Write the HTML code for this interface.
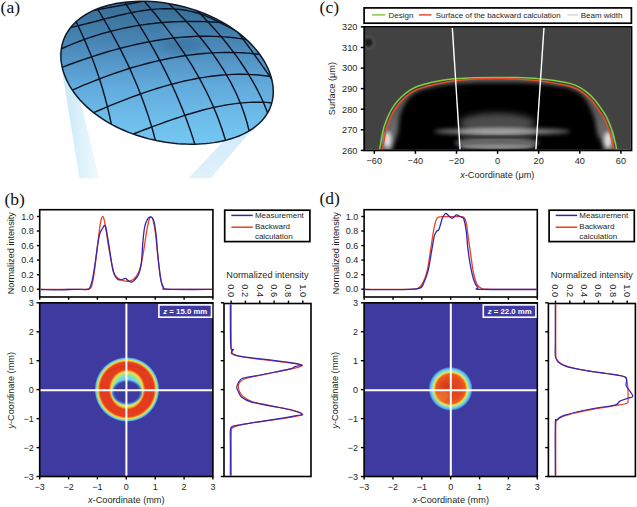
<!DOCTYPE html><html><head><meta charset="utf-8"><style>html,body{margin:0;padding:0;background:#fff;width:637px;height:507px;overflow:hidden}svg{display:block;font-family:"Liberation Sans",sans-serif}</style></head><body><svg width="637" height="507" viewBox="0 0 637 507" font-family="Liberation Sans, sans-serif"><rect width="637" height="507" fill="#fff"/><defs><linearGradient id="domeg" x1="0" y1="0" x2="0" y2="1"><stop offset="0" stop-color="#386a92"/><stop offset="0.12" stop-color="#3c76a0"/><stop offset="0.31" stop-color="#4a88b8"/><stop offset="0.59" stop-color="#62aadc"/><stop offset="0.835" stop-color="#6ebeeb"/><stop offset="1" stop-color="#76c6f2"/></linearGradient><linearGradient id="beamL" x1="0" y1="0" x2="1" y2="0"><stop offset="0" stop-color="#c4e5f5"/><stop offset="0.45" stop-color="#d8f0fa"/><stop offset="1" stop-color="#f2fafd"/></linearGradient><linearGradient id="beamR" x1="0" y1="0" x2="0" y2="1"><stop offset="0" stop-color="#cfe9f9"/><stop offset="1" stop-color="#e0f1fb"/></linearGradient><clipPath id="domeclip"><path d="M62.13,44.72 L62.84,42.14 L63.71,39.61 L64.74,37.12 L65.93,34.69 L67.28,32.31 L68.79,29.99 L70.46,27.74 L72.28,25.56 L74.26,23.45 L76.39,21.43 L78.66,19.48 L81.09,17.62 L83.65,15.85 L86.34,14.18 L89.17,12.59 L92.12,11.11 L95.19,9.73 L98.37,8.44 L101.66,7.27 L105.05,6.19 L108.53,5.22 L112.10,4.36 L115.75,3.60 L119.48,2.94 L123.28,2.40 L127.14,1.96 L131.06,1.63 L135.02,1.40 L139.04,1.28 L143.10,1.27 L147.19,1.36 L151.30,1.56 L155.45,1.86 L159.61,2.27 L163.78,2.79 L167.96,3.41 L172.14,4.14 L176.32,4.97 L180.48,5.91 L184.63,6.96 L188.74,8.10 L192.83,9.35 L196.88,10.70 L200.88,12.16 L204.82,13.71 L208.71,15.35 L212.53,17.09 L216.27,18.92 L219.93,20.83 L223.50,22.83 L226.98,24.91 L230.36,27.06 L233.64,29.29 L236.80,31.58 L239.85,33.93 L242.79,36.35 L245.60,38.81 L248.29,41.33 L250.85,43.89 L253.28,46.49 L255.58,49.13 L257.74,51.80 L259.78,54.50 L261.67,57.23 L263.43,59.98 L265.05,62.74 L266.53,65.52 L267.87,68.32 L269.07,71.12 L270.12,73.92 L271.02,76.73 L271.78,79.53 L272.38,82.33 L272.83,85.12 L273.12,87.89 L273.26,90.65 L273.23,93.39 L273.04,96.10 L272.69,98.78 L272.16,101.42 L271.47,104.02 L270.60,106.58 L269.57,109.09 L268.36,111.54 L266.99,113.92 L265.45,116.24 L263.73,118.49 L261.86,120.67 L259.82,122.76 L257.63,124.77 L255.29,126.69 L252.80,128.52 L250.17,130.25 L247.40,131.88 L244.51,133.42 L241.49,134.85 L238.36,136.18 L235.13,137.41 L231.79,138.54 L228.36,139.56 L224.85,140.48 L221.26,141.29 L217.59,142.00 L213.86,142.62 L210.06,143.13 L206.21,143.54 L202.31,143.85 L198.36,144.06 L194.37,144.17 L190.34,144.18 L186.28,144.10 L182.20,143.92 L178.09,143.64 L173.95,143.26 L169.81,142.78 L165.65,142.20 L161.49,141.51 L157.32,140.73 L153.17,139.84 L149.02,138.86 L144.89,137.76 L140.79,136.57 L136.72,135.27 L132.69,133.87 L128.71,132.37 L124.79,130.76 L120.92,129.06 L117.13,127.27 L113.42,125.38 L109.80,123.40 L106.27,121.34 L102.84,119.19 L99.52,116.97 L96.31,114.67 L93.23,112.31 L90.27,109.88 L87.44,107.40 L84.74,104.86 L82.18,102.27 L79.76,99.64 L77.48,96.98 L75.34,94.28 L73.35,91.55 L71.50,88.80 L69.80,86.03 L68.25,83.25 L66.84,80.45 L65.58,77.65 L64.47,74.85 L63.51,72.04 L62.69,69.24 L62.02,66.44 L61.50,63.66 L61.13,60.88 L60.92,58.13 L60.85,55.39 L60.94,52.68 L61.18,50.00 L61.58,47.34 Z"/></clipPath><filter id="blurA" x="-50%" y="-50%" width="200%" height="200%"><feGaussianBlur stdDeviation="4"/></filter></defs>
<polygon points="59.2,53.0 68.8,53.0 99.2,178.3 79.4,178.3" fill="url(#beamL)"/>
<polygon points="232.0,132.0 259.3,121.0 210.6,178.3 188.6,178.3" fill="url(#beamR)"/>
<path d="M62.13,44.72 L62.84,42.14 L63.71,39.61 L64.74,37.12 L65.93,34.69 L67.28,32.31 L68.79,29.99 L70.46,27.74 L72.28,25.56 L74.26,23.45 L76.39,21.43 L78.66,19.48 L81.09,17.62 L83.65,15.85 L86.34,14.18 L89.17,12.59 L92.12,11.11 L95.19,9.73 L98.37,8.44 L101.66,7.27 L105.05,6.19 L108.53,5.22 L112.10,4.36 L115.75,3.60 L119.48,2.94 L123.28,2.40 L127.14,1.96 L131.06,1.63 L135.02,1.40 L139.04,1.28 L143.10,1.27 L147.19,1.36 L151.30,1.56 L155.45,1.86 L159.61,2.27 L163.78,2.79 L167.96,3.41 L172.14,4.14 L176.32,4.97 L180.48,5.91 L184.63,6.96 L188.74,8.10 L192.83,9.35 L196.88,10.70 L200.88,12.16 L204.82,13.71 L208.71,15.35 L212.53,17.09 L216.27,18.92 L219.93,20.83 L223.50,22.83 L226.98,24.91 L230.36,27.06 L233.64,29.29 L236.80,31.58 L239.85,33.93 L242.79,36.35 L245.60,38.81 L248.29,41.33 L250.85,43.89 L253.28,46.49 L255.58,49.13 L257.74,51.80 L259.78,54.50 L261.67,57.23 L263.43,59.98 L265.05,62.74 L266.53,65.52 L267.87,68.32 L269.07,71.12 L270.12,73.92 L271.02,76.73 L271.78,79.53 L272.38,82.33 L272.83,85.12 L273.12,87.89 L273.26,90.65 L273.23,93.39 L273.04,96.10 L272.69,98.78 L272.16,101.42 L271.47,104.02 L270.60,106.58 L269.57,109.09 L268.36,111.54 L266.99,113.92 L265.45,116.24 L263.73,118.49 L261.86,120.67 L259.82,122.76 L257.63,124.77 L255.29,126.69 L252.80,128.52 L250.17,130.25 L247.40,131.88 L244.51,133.42 L241.49,134.85 L238.36,136.18 L235.13,137.41 L231.79,138.54 L228.36,139.56 L224.85,140.48 L221.26,141.29 L217.59,142.00 L213.86,142.62 L210.06,143.13 L206.21,143.54 L202.31,143.85 L198.36,144.06 L194.37,144.17 L190.34,144.18 L186.28,144.10 L182.20,143.92 L178.09,143.64 L173.95,143.26 L169.81,142.78 L165.65,142.20 L161.49,141.51 L157.32,140.73 L153.17,139.84 L149.02,138.86 L144.89,137.76 L140.79,136.57 L136.72,135.27 L132.69,133.87 L128.71,132.37 L124.79,130.76 L120.92,129.06 L117.13,127.27 L113.42,125.38 L109.80,123.40 L106.27,121.34 L102.84,119.19 L99.52,116.97 L96.31,114.67 L93.23,112.31 L90.27,109.88 L87.44,107.40 L84.74,104.86 L82.18,102.27 L79.76,99.64 L77.48,96.98 L75.34,94.28 L73.35,91.55 L71.50,88.80 L69.80,86.03 L68.25,83.25 L66.84,80.45 L65.58,77.65 L64.47,74.85 L63.51,72.04 L62.69,69.24 L62.02,66.44 L61.50,63.66 L61.13,60.88 L60.92,58.13 L60.85,55.39 L60.94,52.68 L61.18,50.00 L61.58,47.34 Z" fill="url(#domeg)"/>
<g clip-path="url(#domeclip)"><ellipse cx="181" cy="46" rx="22" ry="7" fill="#24527a" opacity="0.28" filter="url(#blurA)"/><ellipse cx="178" cy="31" rx="16" ry="6" fill="#7ab4dc" opacity="0.22" filter="url(#blurA)"/><path d="M72.9,14.2 L97.9,9.6 L98.7,9.4 L99.5,9.3 L100.4,9.1 L101.2,9.0 L102.0,8.8 L102.8,8.7 L103.7,8.5 L104.5,8.4 L105.3,8.2 L106.1,8.1 L107.0,7.9 L107.8,7.8 L108.6,7.6 L109.4,7.5 L110.2,7.3 L111.1,7.2 L111.9,7.0 L112.7,6.9 L113.5,6.7 L114.4,6.6 L115.2,6.4 L116.0,6.3 L116.8,6.1 L117.7,6.0 L118.5,5.8 L119.3,5.7 L120.1,5.5 L120.9,5.4 L121.8,5.2 L122.6,5.1 L123.4,4.9 L124.2,4.8 L125.1,4.6 L125.9,4.5 L126.7,4.3 L127.5,4.2 L128.4,4.0 L129.2,3.9 L130.0,3.7 L155.0,-0.9" fill="none" stroke="#0c1424" stroke-width="1.45"/><path d="M53.7,31.5 L78.7,25.6 L82.2,24.7 L85.7,23.9 L89.2,23.0 L92.7,22.1 L96.2,21.2 L99.7,20.3 L103.3,19.3 L106.8,18.4 L110.3,17.5 L113.8,16.7 L117.3,15.8 L120.8,15.0 L124.3,14.2 L127.8,13.4 L131.3,12.7 L134.8,12.0 L138.3,11.4 L141.8,10.8 L145.3,10.3 L148.9,9.8 L152.4,9.4 L155.9,9.1 L159.4,8.9 L162.9,8.8 L166.4,8.7 L169.9,8.8 L173.4,8.9 L176.9,9.2 L180.4,9.5 L183.9,10.0 L187.4,10.6 L190.9,11.4 L194.5,12.2 L198.0,13.2 L201.5,14.4 L205.0,15.6 L208.5,17.1 L212.0,18.7 L215.5,20.4 L240.5,32.9" fill="none" stroke="#0c1424" stroke-width="1.45"/><path d="M38.1,59.0 L63.1,48.0 L67.4,46.1 L71.6,44.4 L75.9,42.6 L80.2,41.0 L84.5,39.4 L88.7,37.9 L93.0,36.5 L97.3,35.1 L101.5,33.8 L105.8,32.6 L110.1,31.5 L114.4,30.4 L118.6,29.4 L122.9,28.4 L127.2,27.5 L131.4,26.7 L135.7,25.9 L140.0,25.2 L144.3,24.6 L148.5,24.0 L152.8,23.5 L157.1,23.0 L161.4,22.6 L165.6,22.3 L169.9,22.0 L174.2,21.8 L178.4,21.6 L182.7,21.4 L187.0,21.4 L191.3,21.4 L195.5,21.4 L199.8,21.5 L204.1,21.6 L208.3,21.8 L212.6,22.0 L216.9,22.3 L221.2,22.6 L225.4,23.0 L229.7,23.4 L254.7,25.8" fill="none" stroke="#0c1424" stroke-width="1.45"/><path d="M38.9,75.9 L63.9,66.6 L68.8,64.8 L73.6,63.0 L78.5,61.3 L83.3,59.6 L88.2,58.0 L93.1,56.4 L97.9,54.8 L102.8,53.3 L107.6,51.8 L112.5,50.4 L117.3,49.1 L122.2,47.8 L127.1,46.6 L131.9,45.4 L136.8,44.3 L141.6,43.2 L146.5,42.3 L151.4,41.4 L156.2,40.5 L161.1,39.7 L165.9,39.0 L170.8,38.4 L175.7,37.8 L180.5,37.4 L185.4,37.0 L190.2,36.7 L195.1,36.4 L200.0,36.3 L204.8,36.2 L209.7,36.3 L214.5,36.4 L219.4,36.6 L224.2,36.9 L229.1,37.3 L234.0,37.8 L238.8,38.4 L243.7,39.1 L248.5,40.0 L253.4,40.9 L278.4,45.6" fill="none" stroke="#0c1424" stroke-width="1.45"/><path d="M48.9,100.1 L73.9,89.3 L78.7,87.3 L83.5,85.2 L88.3,83.3 L93.1,81.3 L97.9,79.5 L102.7,77.6 L107.5,75.9 L112.3,74.1 L117.1,72.5 L122.0,70.9 L126.8,69.3 L131.6,67.8 L136.4,66.4 L141.2,65.1 L146.0,63.8 L150.8,62.5 L155.6,61.4 L160.4,60.3 L165.2,59.2 L170.0,58.3 L174.8,57.4 L179.6,56.5 L184.4,55.8 L189.2,55.1 L194.0,54.5 L198.8,54.0 L203.6,53.5 L208.4,53.1 L213.2,52.9 L218.1,52.6 L222.9,52.5 L227.7,52.5 L232.5,52.5 L237.3,52.6 L242.1,52.8 L246.9,53.1 L251.7,53.5 L256.5,54.0 L261.3,54.6 L286.3,57.5" fill="none" stroke="#0c1424" stroke-width="1.45"/><path d="M70.3,122.8 L95.3,111.9 L99.8,110.0 L104.2,108.1 L108.7,106.2 L113.1,104.4 L117.6,102.6 L122.1,100.8 L126.5,99.1 L131.0,97.4 L135.4,95.8 L139.9,94.2 L144.3,92.6 L148.8,91.1 L153.3,89.6 L157.7,88.2 L162.2,86.9 L166.6,85.6 L171.1,84.4 L175.6,83.2 L180.0,82.1 L184.5,81.0 L188.9,80.1 L193.4,79.2 L197.9,78.3 L202.3,77.6 L206.8,76.9 L211.2,76.3 L215.7,75.7 L220.2,75.3 L224.6,74.9 L229.1,74.6 L233.5,74.4 L238.0,74.3 L242.4,74.3 L246.9,74.4 L251.4,74.6 L255.8,74.8 L260.3,75.2 L264.7,75.7 L269.2,76.3 L294.2,79.5" fill="none" stroke="#0c1424" stroke-width="1.45"/><path d="M109.5,143.0 L134.5,133.5 L138.0,132.2 L141.4,130.9 L144.9,129.5 L148.4,128.2 L151.9,126.9 L155.3,125.6 L158.8,124.4 L162.3,123.1 L165.8,121.8 L169.2,120.6 L172.7,119.4 L176.2,118.2 L179.7,117.1 L183.1,115.9 L186.6,114.8 L190.1,113.8 L193.6,112.7 L197.0,111.7 L200.5,110.7 L204.0,109.8 L207.5,108.9 L210.9,108.1 L214.4,107.3 L217.9,106.6 L221.4,105.9 L224.8,105.2 L228.3,104.6 L231.8,104.1 L235.3,103.6 L238.7,103.2 L242.2,102.9 L245.7,102.6 L249.2,102.4 L252.6,102.3 L256.1,102.2 L259.6,102.2 L263.1,102.3 L266.5,102.4 L270.0,102.7 L295.0,104.4" fill="none" stroke="#0c1424" stroke-width="1.45"/><path d="M64.7,-2.1 L76.7,22.9 L78.0,25.5 L79.2,28.1 L80.4,30.6 L81.6,33.2 L82.7,35.8 L83.9,38.4 L85.0,40.9 L86.1,43.5 L87.2,46.1 L88.3,48.7 L89.3,51.2 L90.4,53.8 L91.4,56.4 L92.4,59.0 L93.4,61.6 L94.3,64.1 L95.3,66.7 L96.2,69.3 L97.1,71.9 L98.0,74.4 L98.8,77.0 L99.7,79.6 L100.5,82.2 L101.3,84.7 L102.1,87.3 L102.9,89.9 L103.6,92.5 L104.3,95.1 L105.1,97.6 L105.7,100.2 L106.4,102.8 L107.1,105.4 L107.7,107.9 L108.3,110.5 L108.9,113.1 L109.5,115.7 L110.1,118.2 L110.6,120.8 L111.1,123.4 L116.2,148.4" fill="none" stroke="#0c1424" stroke-width="1.45"/><path d="M82.5,-15.4 L97.9,9.6 L100.0,12.9 L102.0,16.3 L104.0,19.6 L106.0,23.0 L107.9,26.3 L109.8,29.7 L111.7,33.0 L113.5,36.3 L115.3,39.7 L117.1,43.0 L118.9,46.4 L120.6,49.7 L122.3,53.1 L123.9,56.4 L125.6,59.8 L127.2,63.1 L128.7,66.4 L130.3,69.8 L131.8,73.1 L133.2,76.5 L134.7,79.8 L136.1,83.2 L137.5,86.5 L138.8,89.8 L140.1,93.2 L141.4,96.5 L142.7,99.9 L143.9,103.2 L145.1,106.6 L146.2,109.9 L147.4,113.3 L148.5,116.6 L149.5,119.9 L150.6,123.3 L151.6,126.6 L152.6,130.0 L153.5,133.3 L154.4,136.7 L155.3,140.0 L161.9,165.0" fill="none" stroke="#0c1424" stroke-width="1.45"/><path d="M116.7,-10.2 L132.9,14.8 L135.0,18.1 L137.1,21.4 L139.2,24.7 L141.2,28.1 L143.2,31.4 L145.2,34.7 L147.2,38.0 L149.1,41.3 L151.0,44.6 L152.9,47.9 L154.8,51.2 L156.6,54.6 L158.4,57.9 L160.1,61.2 L161.9,64.5 L163.6,67.8 L165.3,71.1 L166.9,74.4 L168.5,77.7 L170.1,81.1 L171.7,84.4 L173.2,87.7 L174.7,91.0 L176.2,94.3 L177.6,97.6 L179.0,100.9 L180.4,104.2 L181.8,107.6 L183.1,110.9 L184.4,114.2 L185.7,117.5 L186.9,120.8 L188.1,124.1 L189.3,127.4 L190.5,130.7 L191.6,134.1 L192.7,137.4 L193.7,140.7 L194.8,144.0 L202.6,169.0" fill="none" stroke="#0c1424" stroke-width="1.45"/><path d="M124.2,-22.0 L145.8,3.0 L148.8,6.5 L151.7,10.0 L154.7,13.5 L157.5,17.0 L160.3,20.5 L163.1,24.0 L165.8,27.4 L168.4,30.9 L171.0,34.4 L173.6,37.9 L176.1,41.4 L178.5,44.9 L180.9,48.4 L183.3,51.9 L185.6,55.4 L187.8,58.9 L190.0,62.4 L192.2,65.9 L194.2,69.4 L196.3,72.8 L198.3,76.3 L200.2,79.8 L202.1,83.3 L203.9,86.8 L205.7,90.3 L207.4,93.8 L209.1,97.3 L210.7,100.8 L212.3,104.3 L213.8,107.8 L215.3,111.3 L216.7,114.8 L218.1,118.2 L219.4,121.7 L220.6,125.2 L221.9,128.7 L223.0,132.2 L224.1,135.7 L225.2,139.2 L232.7,164.2" fill="none" stroke="#0c1424" stroke-width="1.45"/><path d="M142.4,-22.0 L168.2,3.0 L171.4,6.2 L174.6,9.3 L177.8,12.5 L180.8,15.7 L183.8,18.8 L186.8,22.0 L189.7,25.2 L192.5,28.3 L195.2,31.5 L197.9,34.7 L200.5,37.8 L203.1,41.0 L205.6,44.2 L208.0,47.3 L210.4,50.5 L212.7,53.7 L214.9,56.8 L217.1,60.0 L219.2,63.2 L221.3,66.3 L223.3,69.5 L225.2,72.7 L227.0,75.8 L228.8,79.0 L230.6,82.2 L232.2,85.3 L233.8,88.5 L235.4,91.7 L236.8,94.8 L238.2,98.0 L239.6,101.2 L240.9,104.3 L242.1,107.5 L243.2,110.7 L244.3,113.8 L245.3,117.0 L246.3,120.2 L247.2,123.3 L248.0,126.5 L254.6,151.5" fill="none" stroke="#0c1424" stroke-width="1.45"/><path d="M174.3,-12.4 L199.0,12.6 L201.5,15.1 L203.9,17.6 L206.3,20.2 L208.7,22.7 L211.0,25.2 L213.3,27.7 L215.6,30.2 L217.8,32.7 L219.9,35.3 L222.1,37.8 L224.2,40.3 L226.2,42.8 L228.2,45.3 L230.2,47.9 L232.1,50.4 L234.0,52.9 L235.9,55.4 L237.7,57.9 L239.5,60.4 L241.2,63.0 L242.9,65.5 L244.6,68.0 L246.2,70.5 L247.8,73.0 L249.3,75.5 L250.8,78.1 L252.3,80.6 L253.7,83.1 L255.1,85.6 L256.5,88.1 L257.8,90.7 L259.0,93.2 L260.3,95.7 L261.5,98.2 L262.6,100.7 L263.7,103.2 L264.8,105.8 L265.8,108.3 L266.8,110.8 L276.7,135.8" fill="none" stroke="#0c1424" stroke-width="1.45"/><path d="M214.3,0.2 L232.8,25.2 L233.8,26.5 L234.8,27.8 L235.7,29.1 L236.7,30.4 L237.7,31.7 L238.6,33.0 L239.6,34.3 L240.5,35.6 L241.5,36.9 L242.4,38.2 L243.4,39.5 L244.4,40.8 L245.3,42.1 L246.3,43.4 L247.2,44.7 L248.2,46.0 L249.1,47.3 L250.0,48.6 L251.0,49.9 L251.9,51.3 L252.9,52.6 L253.8,53.9 L254.8,55.2 L255.7,56.5 L256.6,57.8 L257.6,59.1 L258.5,60.4 L259.4,61.7 L260.4,63.0 L261.3,64.3 L262.2,65.6 L263.1,66.9 L264.1,68.2 L265.0,69.5 L265.9,70.8 L266.8,72.1 L267.8,73.4 L268.7,74.7 L269.6,76.0 L287.2,101.0" fill="none" stroke="#0c1424" stroke-width="1.45"/></g>
<path d="M62.13,44.72 L62.84,42.14 L63.71,39.61 L64.74,37.12 L65.93,34.69 L67.28,32.31 L68.79,29.99 L70.46,27.74 L72.28,25.56 L74.26,23.45 L76.39,21.43 L78.66,19.48 L81.09,17.62 L83.65,15.85 L86.34,14.18 L89.17,12.59 L92.12,11.11 L95.19,9.73 L98.37,8.44 L101.66,7.27 L105.05,6.19 L108.53,5.22 L112.10,4.36 L115.75,3.60 L119.48,2.94 L123.28,2.40 L127.14,1.96 L131.06,1.63 L135.02,1.40 L139.04,1.28 L143.10,1.27 L147.19,1.36 L151.30,1.56 L155.45,1.86 L159.61,2.27 L163.78,2.79 L167.96,3.41 L172.14,4.14 L176.32,4.97 L180.48,5.91 L184.63,6.96 L188.74,8.10 L192.83,9.35 L196.88,10.70 L200.88,12.16 L204.82,13.71 L208.71,15.35 L212.53,17.09 L216.27,18.92 L219.93,20.83 L223.50,22.83 L226.98,24.91 L230.36,27.06 L233.64,29.29 L236.80,31.58 L239.85,33.93 L242.79,36.35 L245.60,38.81 L248.29,41.33 L250.85,43.89 L253.28,46.49 L255.58,49.13 L257.74,51.80 L259.78,54.50 L261.67,57.23 L263.43,59.98 L265.05,62.74 L266.53,65.52 L267.87,68.32 L269.07,71.12 L270.12,73.92 L271.02,76.73 L271.78,79.53 L272.38,82.33 L272.83,85.12 L273.12,87.89 L273.26,90.65 L273.23,93.39 L273.04,96.10 L272.69,98.78 L272.16,101.42 L271.47,104.02 L270.60,106.58 L269.57,109.09 L268.36,111.54 L266.99,113.92 L265.45,116.24 L263.73,118.49 L261.86,120.67 L259.82,122.76 L257.63,124.77 L255.29,126.69 L252.80,128.52 L250.17,130.25 L247.40,131.88 L244.51,133.42 L241.49,134.85 L238.36,136.18 L235.13,137.41 L231.79,138.54 L228.36,139.56 L224.85,140.48 L221.26,141.29 L217.59,142.00 L213.86,142.62 L210.06,143.13 L206.21,143.54 L202.31,143.85 L198.36,144.06 L194.37,144.17 L190.34,144.18 L186.28,144.10 L182.20,143.92 L178.09,143.64 L173.95,143.26 L169.81,142.78 L165.65,142.20 L161.49,141.51 L157.32,140.73 L153.17,139.84 L149.02,138.86 L144.89,137.76 L140.79,136.57 L136.72,135.27 L132.69,133.87 L128.71,132.37 L124.79,130.76 L120.92,129.06 L117.13,127.27 L113.42,125.38 L109.80,123.40 L106.27,121.34 L102.84,119.19 L99.52,116.97 L96.31,114.67 L93.23,112.31 L90.27,109.88 L87.44,107.40 L84.74,104.86 L82.18,102.27 L79.76,99.64 L77.48,96.98 L75.34,94.28 L73.35,91.55 L71.50,88.80 L69.80,86.03 L68.25,83.25 L66.84,80.45 L65.58,77.65 L64.47,74.85 L63.51,72.04 L62.69,69.24 L62.02,66.44 L61.50,63.66 L61.13,60.88 L60.92,58.13 L60.85,55.39 L60.94,52.68 L61.18,50.00 L61.58,47.34 Z" fill="none" stroke="#0d1a2a" stroke-width="1.5"/>
<text x="0.6" y="13.0" font-size="17.5" font-family="Liberation Serif, serif" fill="#111">(a)</text>
<defs><filter id="blur1" x="-20%" y="-20%" width="140%" height="140%"><feGaussianBlur stdDeviation="1.2"/></filter><filter id="blur3" x="-50%" y="-50%" width="200%" height="200%"><feGaussianBlur stdDeviation="3"/></filter><filter id="blur2" x="-50%" y="-50%" width="200%" height="200%"><feGaussianBlur stdDeviation="2"/></filter><clipPath id="cclip"><rect x="365" y="27.8" width="265.6" height="121.7"/></clipPath></defs>
<text x="319.6" y="13.0" font-size="17.5" font-family="Liberation Serif, serif" fill="#111">(c)</text>
<rect x="364.1" y="7.9" width="267.3" height="15.3" fill="#fff" stroke="#000" stroke-width="1.7"/>
<line x1="372.1" y1="14.9" x2="385.3" y2="14.9" stroke="#7dc243" stroke-width="1.4"/>
<text x="388.6" y="17.9" font-size="8" text-anchor="start" fill="#231f20">Design</text>
<line x1="418.9" y1="14.9" x2="431.4" y2="14.9" stroke="#e8401c" stroke-width="1.4"/>
<text x="435.8" y="17.9" font-size="7.92" text-anchor="start" fill="#231f20">Surface of the backward calculation</text>
<line x1="567.5" y1="14.9" x2="578.1" y2="14.9" stroke="#c8c8c8" stroke-width="1.1"/>
<text x="580.7" y="17.9" font-size="8" text-anchor="start" fill="#231f20">Beam width</text>
<g clip-path="url(#cclip)">
<rect x="365" y="27" width="267" height="124" fill="#424242"/>
<circle cx="368.5" cy="42.6" r="6" fill="none" stroke="#555" stroke-width="2" filter="url(#blur1)"/>
<circle cx="368.5" cy="42.6" r="3.8" fill="#1a1a1a" filter="url(#blur1)"/>
<path d="M381.95,151.53 C382.30,149.69 383.42,143.84 384.05,140.52 C384.68,137.21 385.15,134.17 385.73,131.63 C386.31,129.08 386.43,128.25 387.53,125.27 C388.62,122.29 390.73,116.92 392.31,113.75 C393.88,110.58 395.25,108.60 396.96,106.25 C398.67,103.91 400.56,101.70 402.58,99.68 C404.60,97.66 406.60,95.83 409.09,94.10 C411.58,92.38 414.76,90.59 417.54,89.36 C420.32,88.12 423.45,87.37 425.79,86.69 C428.14,86.00 429.01,85.84 431.61,85.23 C434.22,84.62 437.63,83.76 441.42,83.02 C445.21,82.28 448.93,81.46 454.36,80.80 C459.80,80.14 466.93,79.43 474.04,79.06 C481.15,78.69 489.85,78.63 497.00,78.60 C504.16,78.57 509.99,78.54 516.96,78.90 C523.93,79.26 531.72,79.89 538.83,80.76 C545.93,81.64 554.54,83.28 559.59,84.17 C564.63,85.06 565.96,85.15 569.10,86.08 C572.23,87.02 575.60,88.29 578.39,89.77 C581.17,91.25 583.46,92.99 585.81,94.95 C588.16,96.91 590.42,99.16 592.49,101.54 C594.56,103.92 596.36,106.57 598.21,109.20 C600.05,111.84 602.02,114.54 603.54,117.34 C605.06,120.13 606.28,123.47 607.31,125.97 C608.34,128.47 609.00,130.07 609.73,132.35 C610.46,134.64 611.08,137.24 611.68,139.67 C612.29,142.11 612.96,144.99 613.35,146.95 C613.75,148.91 613.92,150.68 614.03,151.42 L614.0,155 L382.0,155 Z" fill="#5c5c5c"/>
<path d="M391.97,153.44 C392.32,151.60 393.45,145.68 394.07,142.43 C394.69,139.17 395.17,136.18 395.67,133.91 C396.18,131.63 396.44,131.54 397.10,128.78 C397.76,126.03 398.85,120.56 399.65,117.40 C400.45,114.24 400.89,112.29 401.88,109.84 C402.87,107.39 404.13,104.94 405.59,102.69 C407.04,100.43 408.47,98.20 410.61,96.31 C412.75,94.42 415.80,92.62 418.44,91.37 C421.07,90.11 424.14,89.46 426.41,88.80 C428.69,88.13 429.54,87.95 432.10,87.38 C434.66,86.80 438.04,85.94 441.79,85.34 C445.54,84.74 449.21,84.22 454.61,83.78 C460.00,83.34 467.08,82.91 474.15,82.70 C481.22,82.48 489.90,82.52 497.01,82.50 C504.13,82.48 509.92,82.38 516.85,82.60 C523.77,82.81 531.49,83.16 538.56,83.78 C545.63,84.41 554.28,85.61 559.26,86.35 C564.25,87.08 565.45,87.29 568.47,88.19 C571.48,89.08 574.78,90.21 577.35,91.72 C579.93,93.22 582.00,95.06 583.92,97.22 C585.84,99.38 587.44,102.03 588.88,104.68 C590.32,107.34 591.45,110.32 592.56,113.16 C593.66,115.99 594.63,118.91 595.51,121.70 C596.40,124.48 597.13,127.57 597.88,129.86 C598.63,132.15 599.37,133.41 600.02,135.45 C600.67,137.50 601.23,139.88 601.78,142.13 C602.34,144.38 602.99,147.15 603.35,148.95 C603.71,150.75 603.85,152.29 603.95,152.96 L603.9,160 L392.0,160 Z" fill="#000" filter="url(#blur2)"/>
<ellipse cx="392" cy="128" rx="5" ry="12" fill="#6a6a6a" filter="url(#blur3)"/>
<ellipse cx="603" cy="128" rx="5" ry="12" fill="#6a6a6a" filter="url(#blur3)"/>
<ellipse cx="387.5" cy="140" rx="4" ry="8.5" fill="#e6e6e6" filter="url(#blur2)"/>
<ellipse cx="608" cy="140" rx="4" ry="8.5" fill="#e6e6e6" filter="url(#blur2)"/>
<ellipse cx="497" cy="123" rx="38" ry="10" fill="#4c4c4c" filter="url(#blur3)"/>
<ellipse cx="497" cy="143" rx="42" ry="7.5" fill="#656565" filter="url(#blur2)"/>
<ellipse cx="502" cy="131.5" rx="68" ry="3.2" fill="#858585" filter="url(#blur2)"/>
<ellipse cx="497" cy="131.5" rx="38" ry="2.6" fill="#a8a8a8" filter="url(#blur2)"/>
<ellipse cx="497" cy="146.5" rx="38" ry="2.2" fill="#8a8a8a" filter="url(#blur1)"/>
<ellipse cx="497" cy="137" rx="36" ry="1.3" fill="#333" filter="url(#blur1)"/>
<path d="M379.20,151.00 C379.55,149.17 380.67,143.33 381.30,140.00 C381.93,136.67 382.40,133.62 383.00,131.00 C383.60,128.38 383.77,127.38 384.90,124.30 C386.03,121.22 388.17,115.78 389.80,112.50 C391.43,109.22 392.90,107.07 394.70,104.60 C396.50,102.13 398.47,99.83 400.60,97.70 C402.73,95.57 404.87,93.62 407.50,91.80 C410.13,89.98 413.48,88.10 416.40,86.80 C419.32,85.50 422.57,84.72 425.00,84.00 C427.43,83.28 428.33,83.10 431.00,82.50 C433.67,81.90 437.13,81.02 441.00,80.40 C444.87,79.78 448.70,79.25 454.20,78.80 C459.70,78.35 466.87,77.92 474.00,77.70 C481.13,77.48 489.83,77.52 497.00,77.50 C504.17,77.48 510.00,77.38 517.00,77.60 C524.00,77.82 531.83,78.17 539.00,78.80 C546.17,79.43 554.85,80.63 560.00,81.40 C565.15,82.17 566.62,82.42 569.90,83.40 C573.18,84.38 576.75,85.73 579.70,87.30 C582.65,88.87 585.12,90.73 587.60,92.80 C590.08,94.87 592.45,97.23 594.60,99.70 C596.75,102.17 598.60,104.88 600.50,107.60 C602.40,110.32 604.43,113.12 606.00,116.00 C607.57,118.88 608.83,122.32 609.90,124.90 C610.97,127.48 611.65,129.15 612.40,131.50 C613.15,133.85 613.78,136.52 614.40,139.00 C615.02,141.48 615.70,144.40 616.10,146.40 C616.50,148.40 616.68,150.23 616.80,151.00" fill="none" stroke="#7fcf3e" stroke-width="1.5"/>
<path d="M381.95,151.53 C382.30,149.69 383.42,143.84 384.05,140.52 C384.68,137.21 385.15,134.17 385.73,131.63 C386.31,129.08 386.43,128.25 387.53,125.27 C388.62,122.29 390.73,116.92 392.31,113.75 C393.88,110.58 395.25,108.60 396.96,106.25 C398.67,103.91 400.56,101.70 402.58,99.68 C404.60,97.66 406.60,95.83 409.09,94.10 C411.58,92.38 414.76,90.59 417.54,89.36 C420.32,88.12 423.45,87.37 425.79,86.69 C428.14,86.00 429.01,85.84 431.61,85.23 C434.22,84.62 437.63,83.76 441.42,83.02 C445.21,82.28 448.93,81.46 454.36,80.80 C459.80,80.14 466.93,79.43 474.04,79.06 C481.15,78.69 489.85,78.63 497.00,78.60 C504.16,78.57 509.99,78.54 516.96,78.90 C523.93,79.26 531.72,79.89 538.83,80.76 C545.93,81.64 554.54,83.28 559.59,84.17 C564.63,85.06 565.96,85.15 569.10,86.08 C572.23,87.02 575.60,88.29 578.39,89.77 C581.17,91.25 583.46,92.99 585.81,94.95 C588.16,96.91 590.42,99.16 592.49,101.54 C594.56,103.92 596.36,106.57 598.21,109.20 C600.05,111.84 602.02,114.54 603.54,117.34 C605.06,120.13 606.28,123.47 607.31,125.97 C608.34,128.47 609.00,130.07 609.73,132.35 C610.46,134.64 611.08,137.24 611.68,139.67 C612.29,142.11 612.96,144.99 613.35,146.95 C613.75,148.91 613.92,150.68 614.03,151.42" fill="none" stroke="#ec4a24" stroke-width="1.5"/>
<line x1="452.2" y1="26" x2="460.2" y2="152" stroke="#fff" stroke-width="1.4"/>
<line x1="544.1" y1="26" x2="535.7" y2="152" stroke="#fff" stroke-width="1.4"/>
</g>
<rect x="364.2" y="26.9" width="267.3" height="123.5" fill="none" stroke="#000" stroke-width="1.8"/>
<line x1="360.8" y1="26.9" x2="364.2" y2="26.9" stroke="#000" stroke-width="1.5"/>
<text x="357.4" y="30.2" font-size="9.2" text-anchor="end" fill="#231f20">320</text>
<line x1="360.8" y1="47.5" x2="364.2" y2="47.5" stroke="#000" stroke-width="1.5"/>
<text x="357.4" y="50.8" font-size="9.2" text-anchor="end" fill="#231f20">310</text>
<line x1="360.8" y1="68.1" x2="364.2" y2="68.1" stroke="#000" stroke-width="1.5"/>
<text x="357.4" y="71.4" font-size="9.2" text-anchor="end" fill="#231f20">300</text>
<line x1="360.8" y1="88.6" x2="364.2" y2="88.6" stroke="#000" stroke-width="1.5"/>
<text x="357.4" y="91.9" font-size="9.2" text-anchor="end" fill="#231f20">290</text>
<line x1="360.8" y1="109.2" x2="364.2" y2="109.2" stroke="#000" stroke-width="1.5"/>
<text x="357.4" y="112.5" font-size="9.2" text-anchor="end" fill="#231f20">280</text>
<line x1="360.8" y1="129.8" x2="364.2" y2="129.8" stroke="#000" stroke-width="1.5"/>
<text x="357.4" y="133.1" font-size="9.2" text-anchor="end" fill="#231f20">270</text>
<line x1="360.8" y1="150.4" x2="364.2" y2="150.4" stroke="#000" stroke-width="1.5"/>
<text x="357.4" y="153.7" font-size="9.2" text-anchor="end" fill="#231f20">260</text>
<line x1="374.3" y1="150.4" x2="374.3" y2="153.8" stroke="#000" stroke-width="1.5"/>
<text x="374.3" y="164.3" font-size="9.2" text-anchor="middle" fill="#231f20">−60</text>
<line x1="415.4" y1="150.4" x2="415.4" y2="153.8" stroke="#000" stroke-width="1.5"/>
<text x="415.4" y="164.3" font-size="9.2" text-anchor="middle" fill="#231f20">−40</text>
<line x1="456.5" y1="150.4" x2="456.5" y2="153.8" stroke="#000" stroke-width="1.5"/>
<text x="456.5" y="164.3" font-size="9.2" text-anchor="middle" fill="#231f20">−20</text>
<line x1="497.6" y1="150.4" x2="497.6" y2="153.8" stroke="#000" stroke-width="1.5"/>
<text x="497.6" y="164.3" font-size="9.2" text-anchor="middle" fill="#231f20">0</text>
<line x1="538.7" y1="150.4" x2="538.7" y2="153.8" stroke="#000" stroke-width="1.5"/>
<text x="538.7" y="164.3" font-size="9.2" text-anchor="middle" fill="#231f20">20</text>
<line x1="579.8" y1="150.4" x2="579.8" y2="153.8" stroke="#000" stroke-width="1.5"/>
<text x="579.8" y="164.3" font-size="9.2" text-anchor="middle" fill="#231f20">40</text>
<line x1="620.9" y1="150.4" x2="620.9" y2="153.8" stroke="#000" stroke-width="1.5"/>
<text x="620.9" y="164.3" font-size="9.2" text-anchor="middle" fill="#231f20">60</text>
<text x="497.3" y="178" font-size="9.2" text-anchor="middle" fill="#231f20"><tspan font-style="italic">x</tspan>-Coordinate (μm)</text>
<text transform="translate(335.2 88.6) rotate(-90)" font-size="9.2" text-anchor="middle" fill="#231f20">Surface (μm)</text>
<text x="4.4" y="204.7" font-size="17.5" font-family="Liberation Serif, serif" fill="#111">(b)</text>
<rect x="39.7" y="209.7" width="173.2" height="87.3" fill="#fff" stroke="#000" stroke-width="1.6"/>
<line x1="36.9" y1="289.2" x2="39.7" y2="289.2" stroke="#000" stroke-width="1.4"/>
<text x="33.8" y="292.4" font-size="9.0" text-anchor="end" fill="#231f20">0.0</text>
<line x1="36.9" y1="274.7" x2="39.7" y2="274.7" stroke="#000" stroke-width="1.4"/>
<text x="33.8" y="277.9" font-size="9.0" text-anchor="end" fill="#231f20">0.2</text>
<line x1="36.9" y1="260.1" x2="39.7" y2="260.1" stroke="#000" stroke-width="1.4"/>
<text x="33.8" y="263.3" font-size="9.0" text-anchor="end" fill="#231f20">0.4</text>
<line x1="36.9" y1="245.6" x2="39.7" y2="245.6" stroke="#000" stroke-width="1.4"/>
<text x="33.8" y="248.8" font-size="9.0" text-anchor="end" fill="#231f20">0.6</text>
<line x1="36.9" y1="231.0" x2="39.7" y2="231.0" stroke="#000" stroke-width="1.4"/>
<text x="33.8" y="234.2" font-size="9.0" text-anchor="end" fill="#231f20">0.8</text>
<line x1="36.9" y1="216.5" x2="39.7" y2="216.5" stroke="#000" stroke-width="1.4"/>
<text x="33.8" y="219.7" font-size="9.0" text-anchor="end" fill="#231f20">1.0</text>
<line x1="39.7" y1="297.0" x2="39.7" y2="299.8" stroke="#000" stroke-width="1.4"/>
<line x1="68.6" y1="297.0" x2="68.6" y2="299.8" stroke="#000" stroke-width="1.4"/>
<line x1="97.4" y1="297.0" x2="97.4" y2="299.8" stroke="#000" stroke-width="1.4"/>
<line x1="126.3" y1="297.0" x2="126.3" y2="299.8" stroke="#000" stroke-width="1.4"/>
<line x1="155.2" y1="297.0" x2="155.2" y2="299.8" stroke="#000" stroke-width="1.4"/>
<line x1="184.1" y1="297.0" x2="184.1" y2="299.8" stroke="#000" stroke-width="1.4"/>
<line x1="212.9" y1="297.0" x2="212.9" y2="299.8" stroke="#000" stroke-width="1.4"/>
<text transform="translate(14.3 253.2) rotate(-90)" font-size="9.15" text-anchor="middle" fill="#231f20">Normalized intensity</text>
<path d="M40.50,289.30 C47.08,289.30 71.78,289.42 80.00,289.30 C88.22,289.18 87.73,289.63 89.80,288.60 C91.87,287.57 91.67,285.78 92.40,283.10 C93.13,280.42 93.45,277.82 94.20,272.50 C94.95,267.18 96.07,258.02 96.90,251.20 C97.73,244.38 98.52,236.78 99.20,231.60 C99.88,226.42 100.47,222.62 101.00,220.10 C101.53,217.58 101.90,216.65 102.40,216.50 C102.90,216.35 103.35,216.68 104.00,219.20 C104.65,221.72 105.57,227.17 106.30,231.60 C107.03,236.03 107.60,241.07 108.40,245.80 C109.20,250.53 110.22,255.55 111.10,260.00 C111.98,264.45 112.67,269.53 113.70,272.50 C114.73,275.47 115.82,276.48 117.30,277.80 C118.78,279.12 120.83,279.82 122.60,280.40 C124.37,280.98 126.12,281.43 127.90,281.30 C129.68,281.17 131.52,281.07 133.30,279.60 C135.08,278.13 137.27,275.17 138.60,272.50 C139.93,269.83 140.42,267.45 141.30,263.60 C142.18,259.75 143.02,254.73 143.90,249.40 C144.78,244.07 145.72,236.63 146.60,231.60 C147.48,226.57 148.52,221.62 149.20,219.20 C149.88,216.78 150.10,217.10 150.70,217.10 C151.30,217.10 152.00,216.48 152.80,219.20 C153.60,221.92 154.62,226.88 155.50,233.40 C156.38,239.92 157.22,250.60 158.10,258.30 C158.98,266.00 159.90,274.72 160.80,279.60 C161.70,284.48 162.47,285.98 163.50,287.60 C164.53,289.22 158.92,289.02 167.00,289.30 C175.08,289.58 204.50,289.30 212.00,289.30" fill="none" stroke="#ec4020" stroke-width="1.3"/>
<path d="M40.50,289.50 C43.75,289.55 54.25,289.83 60.00,289.80 C65.75,289.77 70.67,289.35 75.00,289.30 C79.33,289.25 83.58,289.67 86.00,289.50 C88.42,289.33 88.43,289.95 89.50,288.30 C90.57,286.65 91.47,283.72 92.40,279.60 C93.33,275.48 94.20,269.53 95.10,263.60 C96.00,257.67 97.00,249.03 97.80,244.00 C98.60,238.97 99.17,235.90 99.90,233.40 C100.63,230.90 101.37,230.33 102.20,229.00 C103.03,227.67 104.17,224.97 104.90,225.40 C105.63,225.83 105.87,227.90 106.60,231.60 C107.33,235.30 108.40,241.97 109.30,247.60 C110.20,253.23 111.12,260.82 112.00,265.40 C112.88,269.98 113.57,272.73 114.60,275.10 C115.63,277.47 117.02,278.85 118.20,279.60 C119.38,280.35 120.52,279.80 121.70,279.60 C122.88,279.40 124.27,278.27 125.30,278.40 C126.33,278.53 126.87,279.77 127.90,280.40 C128.93,281.03 130.32,282.33 131.50,282.20 C132.68,282.07 133.82,280.93 135.00,279.60 C136.18,278.27 137.55,276.87 138.60,274.20 C139.65,271.53 140.57,269.22 141.30,263.60 C142.03,257.98 142.42,246.72 143.00,240.50 C143.58,234.28 144.05,229.85 144.80,226.30 C145.55,222.75 146.62,220.78 147.50,219.20 C148.38,217.62 149.22,216.92 150.10,216.80 C150.98,216.68 152.05,217.22 152.80,218.50 C153.55,219.78 154.02,221.42 154.60,224.50 C155.18,227.58 155.72,231.37 156.30,237.00 C156.88,242.63 157.35,251.20 158.10,258.30 C158.85,265.40 159.90,274.68 160.80,279.60 C161.70,284.52 162.47,286.22 163.50,287.80 C164.53,289.38 162.58,288.82 167.00,289.10 C171.42,289.38 182.50,289.47 190.00,289.50 C197.50,289.53 208.33,289.33 212.00,289.30" fill="none" stroke="#3326b0" stroke-width="1.3"/>
<rect x="224.7" y="210.2" width="85.2" height="31.4" fill="#fff" stroke="#000" stroke-width="1.7"/>
<line x1="231.3" y1="215.4" x2="252.8" y2="215.4" stroke="#3326b0" stroke-width="1.5"/>
<line x1="231.3" y1="227.2" x2="252.8" y2="227.2" stroke="#ec4020" stroke-width="1.5"/>
<text x="254.9" y="218.4" font-size="8" text-anchor="start" fill="#231f20">Measurement</text>
<text x="254.9" y="229.3" font-size="8" text-anchor="start" fill="#231f20">Backward</text>
<text x="254.9" y="238.9" font-size="8" text-anchor="start" fill="#231f20">calculation</text>
<rect x="39.7" y="302.8" width="173.2" height="173.7" fill="#3e3aa0"/>
<defs><radialGradient id="ringg" cx="0.5" cy="0.5" r="0.5"><stop offset="0" stop-color="#e23a1e"/><stop offset="0.83" stop-color="#e43c1e"/><stop offset="0.865" stop-color="#f08030"/><stop offset="0.9" stop-color="#f0e040"/><stop offset="0.935" stop-color="#80dcc8"/><stop offset="0.965" stop-color="#5ab0e6"/><stop offset="1" stop-color="#3e3aa0"/></radialGradient><radialGradient id="ringin" cx="0.5" cy="0.5" r="0.5"><stop offset="0" stop-color="#5cc4ea"/><stop offset="0.62" stop-color="#72d8e0"/><stop offset="0.78" stop-color="#a8e488"/><stop offset="0.86" stop-color="#f0e040"/><stop offset="0.93" stop-color="#f29030"/><stop offset="1" stop-color="#e43c1e"/></radialGradient><radialGradient id="ringhole" cx="0.5" cy="0.5" r="0.5"><stop offset="0" stop-color="#3e3aa0"/><stop offset="0.8" stop-color="#3e3aa0"/><stop offset="0.92" stop-color="#4c82d2"/><stop offset="1" stop-color="#6cc8e4"/></radialGradient><filter id="bl15" x="-50%" y="-50%" width="200%" height="200%"><feGaussianBlur stdDeviation="1.5"/></filter><filter id="bl07" x="-50%" y="-50%" width="200%" height="200%"><feGaussianBlur stdDeviation="0.7"/></filter></defs><circle cx="127" cy="389.5" r="32.5" fill="url(#ringg)"/><ellipse cx="127" cy="389.5" rx="18.2" ry="20.2" fill="url(#ringin)" filter="url(#bl07)"/><ellipse cx="127" cy="392.2" rx="15.4" ry="12.6" fill="url(#ringhole)" filter="url(#bl07)"/><path d="M107,372.5 Q127,360.5 145,370.5" fill="none" stroke="#b82814" stroke-width="1.2" opacity="0.35" filter="url(#bl07)"/><path d="M149,379.5 Q154,392.5 148,404.5" fill="none" stroke="#c02a16" stroke-width="1" opacity="0.3" filter="url(#bl07)"/>
<line x1="126.4" y1="302.8" x2="126.4" y2="476.5" stroke="#fff" stroke-width="2"/>
<line x1="39.7" y1="390.2" x2="212.9" y2="390.2" stroke="#fff" stroke-width="2"/>
<rect x="39.7" y="302.8" width="173.2" height="173.7" fill="none" stroke="#000" stroke-width="1.6"/>
<rect x="158.9" y="304.9" width="52.6" height="12.3" fill="none" stroke="#fff" stroke-width="1.6"/>
<text x="185.3" y="313.9" font-size="7.8" font-weight="bold" text-anchor="middle" fill="#fff"><tspan font-style="italic">z</tspan> = 15.0 mm</text>
<line x1="36.5" y1="302.8" x2="39.7" y2="302.8" stroke="#000" stroke-width="1.4"/>
<text x="33.7" y="306.0" font-size="9.0" text-anchor="end" fill="#231f20">3</text>
<line x1="39.7" y1="476.5" x2="39.7" y2="479.4" stroke="#000" stroke-width="1.4"/>
<text x="39.7" y="490.4" font-size="9.0" text-anchor="middle" fill="#231f20">−3</text>
<line x1="36.5" y1="331.8" x2="39.7" y2="331.8" stroke="#000" stroke-width="1.4"/>
<text x="33.7" y="334.9" font-size="9.0" text-anchor="end" fill="#231f20">2</text>
<line x1="68.6" y1="476.5" x2="68.6" y2="479.4" stroke="#000" stroke-width="1.4"/>
<text x="68.6" y="490.4" font-size="9.0" text-anchor="middle" fill="#231f20">−2</text>
<line x1="36.5" y1="360.7" x2="39.7" y2="360.7" stroke="#000" stroke-width="1.4"/>
<text x="33.7" y="363.9" font-size="9.0" text-anchor="end" fill="#231f20">1</text>
<line x1="97.4" y1="476.5" x2="97.4" y2="479.4" stroke="#000" stroke-width="1.4"/>
<text x="97.4" y="490.4" font-size="9.0" text-anchor="middle" fill="#231f20">−1</text>
<line x1="36.5" y1="389.6" x2="39.7" y2="389.6" stroke="#000" stroke-width="1.4"/>
<text x="33.7" y="392.8" font-size="9.0" text-anchor="end" fill="#231f20">0</text>
<line x1="126.3" y1="476.5" x2="126.3" y2="479.4" stroke="#000" stroke-width="1.4"/>
<text x="126.3" y="490.4" font-size="9.0" text-anchor="middle" fill="#231f20">0</text>
<line x1="36.5" y1="418.6" x2="39.7" y2="418.6" stroke="#000" stroke-width="1.4"/>
<text x="33.7" y="421.8" font-size="9.0" text-anchor="end" fill="#231f20">−1</text>
<line x1="155.2" y1="476.5" x2="155.2" y2="479.4" stroke="#000" stroke-width="1.4"/>
<text x="155.2" y="490.4" font-size="9.0" text-anchor="middle" fill="#231f20">1</text>
<line x1="36.5" y1="447.6" x2="39.7" y2="447.6" stroke="#000" stroke-width="1.4"/>
<text x="33.7" y="450.8" font-size="9.0" text-anchor="end" fill="#231f20">−2</text>
<line x1="184.1" y1="476.5" x2="184.1" y2="479.4" stroke="#000" stroke-width="1.4"/>
<text x="184.1" y="490.4" font-size="9.0" text-anchor="middle" fill="#231f20">2</text>
<line x1="36.5" y1="476.5" x2="39.7" y2="476.5" stroke="#000" stroke-width="1.4"/>
<text x="33.7" y="479.7" font-size="9.0" text-anchor="end" fill="#231f20">−3</text>
<line x1="212.9" y1="476.5" x2="212.9" y2="479.4" stroke="#000" stroke-width="1.4"/>
<text x="212.9" y="490.4" font-size="9.0" text-anchor="middle" fill="#231f20">3</text>
<text x="126.3" y="502.6" font-size="9.2" text-anchor="middle" fill="#231f20"><tspan font-style="italic">x</tspan>-Coordinate (mm)</text>
<text transform="translate(13.9 390.3) rotate(-90)" font-size="9.2" text-anchor="middle" fill="#231f20"><tspan font-style="italic">y</tspan>-Coordinate (mm)</text>
<rect x="224.0" y="303.5" width="87.0" height="173" fill="#fff" stroke="#000" stroke-width="1.6"/>
<text x="267.4" y="277.8" font-size="9.15" text-anchor="middle" fill="#231f20">Normalized intensity</text>
<line x1="231.1" y1="300.6" x2="231.1" y2="303.5" stroke="#000" stroke-width="1.4"/>
<text transform="translate(227.8 297) rotate(90)" font-size="9.2" text-anchor="end" fill="#231f20">0.0</text>
<line x1="245.4" y1="300.6" x2="245.4" y2="303.5" stroke="#000" stroke-width="1.4"/>
<text transform="translate(242.1 297) rotate(90)" font-size="9.2" text-anchor="end" fill="#231f20">0.2</text>
<line x1="259.8" y1="300.6" x2="259.8" y2="303.5" stroke="#000" stroke-width="1.4"/>
<text transform="translate(256.5 297) rotate(90)" font-size="9.2" text-anchor="end" fill="#231f20">0.4</text>
<line x1="274.1" y1="300.6" x2="274.1" y2="303.5" stroke="#000" stroke-width="1.4"/>
<text transform="translate(270.8 297) rotate(90)" font-size="9.2" text-anchor="end" fill="#231f20">0.6</text>
<line x1="288.5" y1="300.6" x2="288.5" y2="303.5" stroke="#000" stroke-width="1.4"/>
<text transform="translate(285.2 297) rotate(90)" font-size="9.2" text-anchor="end" fill="#231f20">0.8</text>
<line x1="302.8" y1="300.6" x2="302.8" y2="303.5" stroke="#000" stroke-width="1.4"/>
<text transform="translate(299.5 297) rotate(90)" font-size="9.2" text-anchor="end" fill="#231f20">1.0</text>
<line x1="220.8" y1="302.8" x2="224.0" y2="302.8" stroke="#000" stroke-width="1.4"/>
<line x1="220.8" y1="331.8" x2="224.0" y2="331.8" stroke="#000" stroke-width="1.4"/>
<line x1="220.8" y1="360.7" x2="224.0" y2="360.7" stroke="#000" stroke-width="1.4"/>
<line x1="220.8" y1="389.6" x2="224.0" y2="389.6" stroke="#000" stroke-width="1.4"/>
<line x1="220.8" y1="418.6" x2="224.0" y2="418.6" stroke="#000" stroke-width="1.4"/>
<line x1="220.8" y1="447.6" x2="224.0" y2="447.6" stroke="#000" stroke-width="1.4"/>
<line x1="220.8" y1="476.5" x2="224.0" y2="476.5" stroke="#000" stroke-width="1.4"/>
<path d="M231.20,304.30 C231.20,310.25 231.15,332.30 231.20,340.00 C231.25,347.70 231.03,348.08 231.50,350.50 C231.97,352.92 232.58,353.50 234.00,354.50 C235.42,355.50 237.00,355.87 240.00,356.50 C243.00,357.13 246.78,357.62 252.00,358.30 C257.22,358.98 265.30,359.88 271.30,360.60 C277.30,361.32 283.55,362.00 288.00,362.60 C292.45,363.20 295.57,363.70 298.00,364.20 C300.43,364.70 302.60,365.07 302.60,365.60 C302.60,366.13 300.43,366.73 298.00,367.40 C295.57,368.07 292.50,368.67 288.00,369.60 C283.50,370.53 276.33,371.90 271.00,373.00 C265.67,374.10 260.33,375.23 256.00,376.20 C251.67,377.17 247.75,377.75 245.00,378.80 C242.25,379.85 240.62,381.17 239.50,382.50 C238.38,383.83 238.30,385.30 238.30,386.80 C238.30,388.30 238.72,389.88 239.50,391.50 C240.28,393.12 240.92,394.83 243.00,396.50 C245.08,398.17 247.28,399.95 252.00,401.50 C256.72,403.05 264.78,404.42 271.30,405.80 C277.82,407.18 285.88,408.40 291.10,409.80 C296.32,411.20 301.78,413.12 302.60,414.20 C303.42,415.28 301.22,415.30 296.00,416.30 C290.78,417.30 278.70,419.08 271.30,420.20 C263.90,421.32 257.15,422.10 251.60,423.00 C246.05,423.90 241.18,424.77 238.00,425.60 C234.82,426.43 233.62,426.93 232.50,428.00 C231.38,429.07 231.50,424.05 231.30,432.00 C231.10,439.95 231.30,468.42 231.30,475.70" fill="none" stroke="#ec4020" stroke-width="1.2"/>
<path d="M230.30,304.30 C230.32,308.58 230.30,322.73 230.40,330.00 C230.50,337.27 230.40,344.65 230.90,347.90 C231.40,351.15 233.30,348.85 233.40,349.50 C233.50,350.15 231.75,351.08 231.50,351.80 C231.25,352.52 230.85,353.13 231.90,353.80 C232.95,354.47 234.52,355.13 237.80,355.80 C241.08,356.47 246.02,357.08 251.60,357.80 C257.18,358.52 265.38,359.38 271.30,360.10 C277.22,360.82 282.82,361.50 287.10,362.10 C291.38,362.70 294.53,363.18 297.00,363.70 C299.47,364.22 302.23,364.72 301.90,365.20 C301.57,365.68 296.80,366.03 295.00,366.60 C293.20,367.17 294.38,367.70 291.10,368.60 C287.82,369.50 280.90,370.85 275.30,372.00 C269.70,373.15 262.43,374.58 257.50,375.50 C252.57,376.42 248.50,376.85 245.70,377.50 C242.90,378.15 242.18,377.92 240.70,379.40 C239.22,380.88 237.22,384.42 236.80,386.40 C236.38,388.38 237.38,389.50 238.20,391.30 C239.02,393.10 239.47,395.40 241.70,397.20 C243.93,399.00 246.67,400.62 251.60,402.10 C256.53,403.58 264.72,404.78 271.30,406.10 C277.88,407.42 286.00,408.68 291.10,410.00 C296.20,411.32 301.25,413.02 301.90,414.00 C302.55,414.98 300.10,414.92 295.00,415.90 C289.90,416.88 278.53,418.75 271.30,419.90 C264.07,421.05 257.18,421.92 251.60,422.80 C246.02,423.68 241.08,424.53 237.80,425.20 C234.52,425.87 233.15,425.88 231.90,426.80 C230.65,427.72 230.55,426.83 230.30,430.70 C230.05,434.57 230.40,442.50 230.40,450.00 C230.40,457.50 230.32,471.42 230.30,475.70" fill="none" stroke="#3326b0" stroke-width="1.2"/>
<text x="319.4" y="203.7" font-size="17.5" font-family="Liberation Serif, serif" fill="#111">(d)</text>
<rect x="364.1" y="209.7" width="173.2" height="87.3" fill="#fff" stroke="#000" stroke-width="1.6"/>
<line x1="361.3" y1="289.2" x2="364.1" y2="289.2" stroke="#000" stroke-width="1.4"/>
<text x="358.2" y="292.4" font-size="9.0" text-anchor="end" fill="#231f20">0.0</text>
<line x1="361.3" y1="274.7" x2="364.1" y2="274.7" stroke="#000" stroke-width="1.4"/>
<text x="358.2" y="277.9" font-size="9.0" text-anchor="end" fill="#231f20">0.2</text>
<line x1="361.3" y1="260.1" x2="364.1" y2="260.1" stroke="#000" stroke-width="1.4"/>
<text x="358.2" y="263.3" font-size="9.0" text-anchor="end" fill="#231f20">0.4</text>
<line x1="361.3" y1="245.6" x2="364.1" y2="245.6" stroke="#000" stroke-width="1.4"/>
<text x="358.2" y="248.8" font-size="9.0" text-anchor="end" fill="#231f20">0.6</text>
<line x1="361.3" y1="231.0" x2="364.1" y2="231.0" stroke="#000" stroke-width="1.4"/>
<text x="358.2" y="234.2" font-size="9.0" text-anchor="end" fill="#231f20">0.8</text>
<line x1="361.3" y1="216.5" x2="364.1" y2="216.5" stroke="#000" stroke-width="1.4"/>
<text x="358.2" y="219.7" font-size="9.0" text-anchor="end" fill="#231f20">1.0</text>
<line x1="364.1" y1="297.0" x2="364.1" y2="299.8" stroke="#000" stroke-width="1.4"/>
<line x1="393.0" y1="297.0" x2="393.0" y2="299.8" stroke="#000" stroke-width="1.4"/>
<line x1="421.8" y1="297.0" x2="421.8" y2="299.8" stroke="#000" stroke-width="1.4"/>
<line x1="450.7" y1="297.0" x2="450.7" y2="299.8" stroke="#000" stroke-width="1.4"/>
<line x1="479.6" y1="297.0" x2="479.6" y2="299.8" stroke="#000" stroke-width="1.4"/>
<line x1="508.4" y1="297.0" x2="508.4" y2="299.8" stroke="#000" stroke-width="1.4"/>
<line x1="537.3" y1="297.0" x2="537.3" y2="299.8" stroke="#000" stroke-width="1.4"/>
<text transform="translate(338.7 253.2) rotate(-90)" font-size="9.15" text-anchor="middle" fill="#231f20">Normalized intensity</text>
<path d="M364.50,289.30 C371.25,289.30 396.18,289.42 405.00,289.30 C413.82,289.18 414.43,289.63 417.40,288.60 C420.37,287.57 421.17,286.08 422.80,283.10 C424.43,280.12 425.88,276.32 427.20,270.70 C428.52,265.08 429.67,255.92 430.70,249.40 C431.73,242.88 432.50,236.48 433.40,231.60 C434.30,226.72 435.22,222.52 436.10,220.10 C436.98,217.68 437.37,217.67 438.70,217.10 C440.03,216.53 442.02,216.77 444.10,216.70 C446.18,216.63 448.83,216.70 451.20,216.70 C453.57,216.70 456.23,216.63 458.30,216.70 C460.37,216.77 462.27,216.08 463.60,217.10 C464.93,218.12 465.57,219.78 466.30,222.80 C467.03,225.82 467.27,229.88 468.00,235.20 C468.73,240.52 469.80,248.48 470.70,254.70 C471.60,260.92 472.37,267.62 473.40,272.50 C474.43,277.38 475.58,281.35 476.90,284.00 C478.22,286.65 479.12,287.52 481.30,288.40 C483.48,289.28 480.72,289.15 490.00,289.30 C499.28,289.45 529.17,289.30 537.00,289.30" fill="none" stroke="#ec4020" stroke-width="1.3"/>
<path d="M364.50,289.50 C370.42,289.52 390.88,289.80 400.00,289.60 C409.12,289.40 415.27,289.38 419.20,288.30 C423.13,287.22 422.12,286.03 423.60,283.10 C425.08,280.17 426.77,276.02 428.10,270.70 C429.43,265.38 430.57,256.97 431.60,251.20 C432.63,245.43 433.47,239.42 434.30,236.10 C435.13,232.78 435.87,232.33 436.60,231.30 C437.33,230.27 438.05,231.03 438.70,229.90 C439.35,228.77 439.90,226.43 440.50,224.50 C441.10,222.57 441.55,220.07 442.30,218.30 C443.05,216.53 444.27,214.63 445.00,213.90 C445.73,213.17 445.97,213.47 446.70,213.90 C447.43,214.33 448.52,215.77 449.40,216.50 C450.28,217.23 451.17,218.30 452.00,218.30 C452.83,218.30 453.65,217.07 454.40,216.50 C455.15,215.93 455.70,214.98 456.50,214.90 C457.30,214.82 458.32,215.58 459.20,216.00 C460.08,216.42 461.02,216.87 461.80,217.40 C462.58,217.93 463.15,216.83 463.90,219.20 C464.65,221.57 465.62,226.57 466.30,231.60 C466.98,236.63 467.27,243.48 468.00,249.40 C468.73,255.32 469.67,261.78 470.70,267.10 C471.73,272.42 473.02,277.88 474.20,281.30 C475.38,284.72 476.62,286.27 477.80,287.60 C478.98,288.93 471.43,288.98 481.30,289.30 C491.17,289.62 527.72,289.47 537.00,289.50" fill="none" stroke="#3326b0" stroke-width="1.3"/>
<rect x="549.1" y="210.2" width="85.2" height="31.4" fill="#fff" stroke="#000" stroke-width="1.7"/>
<line x1="555.7" y1="215.4" x2="577.2" y2="215.4" stroke="#3326b0" stroke-width="1.5"/>
<line x1="555.7" y1="227.2" x2="577.2" y2="227.2" stroke="#ec4020" stroke-width="1.5"/>
<text x="579.3" y="218.4" font-size="8" text-anchor="start" fill="#231f20">Measurement</text>
<text x="579.3" y="229.3" font-size="8" text-anchor="start" fill="#231f20">Backward</text>
<text x="579.3" y="238.9" font-size="8" text-anchor="start" fill="#231f20">calculation</text>
<rect x="364.1" y="302.8" width="173.2" height="173.7" fill="#3e3aa0"/>
<defs><radialGradient id="spotg" cx="0.5" cy="0.5" r="0.5"><stop offset="0" stop-color="#d8401c"/><stop offset="0.5" stop-color="#e54a1f"/><stop offset="0.66" stop-color="#ec5a22"/><stop offset="0.71" stop-color="#f28a30"/><stop offset="0.75" stop-color="#f2e040"/><stop offset="0.8" stop-color="#b0e880"/><stop offset="0.85" stop-color="#78d8e8"/><stop offset="0.91" stop-color="#60b8ec"/><stop offset="0.96" stop-color="#5080d0"/><stop offset="1" stop-color="#3e3aa0"/></radialGradient></defs><circle cx="450.6" cy="388.8" r="22" fill="url(#spotg)"/><ellipse cx="442.6" cy="395.8" rx="7" ry="5.5" fill="#f08a38" opacity="0.5" filter="url(#bl15)"/><ellipse cx="445.6" cy="385.8" rx="4" ry="3" fill="#c83018" opacity="0.5" filter="url(#bl15)"/>
<line x1="450.8" y1="302.8" x2="450.8" y2="476.5" stroke="#fff" stroke-width="2"/>
<line x1="364.1" y1="390.2" x2="537.3" y2="390.2" stroke="#fff" stroke-width="2"/>
<rect x="364.1" y="302.8" width="173.2" height="173.7" fill="none" stroke="#000" stroke-width="1.6"/>
<rect x="483.3" y="304.9" width="52.6" height="12.3" fill="none" stroke="#fff" stroke-width="1.6"/>
<text x="509.7" y="313.9" font-size="7.8" font-weight="bold" text-anchor="middle" fill="#fff"><tspan font-style="italic">z</tspan> = 22.0 mm</text>
<line x1="360.9" y1="302.8" x2="364.1" y2="302.8" stroke="#000" stroke-width="1.4"/>
<text x="358.1" y="306.0" font-size="9.0" text-anchor="end" fill="#231f20">3</text>
<line x1="364.1" y1="476.5" x2="364.1" y2="479.4" stroke="#000" stroke-width="1.4"/>
<text x="364.1" y="490.4" font-size="9.0" text-anchor="middle" fill="#231f20">−3</text>
<line x1="360.9" y1="331.8" x2="364.1" y2="331.8" stroke="#000" stroke-width="1.4"/>
<text x="358.1" y="334.9" font-size="9.0" text-anchor="end" fill="#231f20">2</text>
<line x1="393.0" y1="476.5" x2="393.0" y2="479.4" stroke="#000" stroke-width="1.4"/>
<text x="393.0" y="490.4" font-size="9.0" text-anchor="middle" fill="#231f20">−2</text>
<line x1="360.9" y1="360.7" x2="364.1" y2="360.7" stroke="#000" stroke-width="1.4"/>
<text x="358.1" y="363.9" font-size="9.0" text-anchor="end" fill="#231f20">1</text>
<line x1="421.8" y1="476.5" x2="421.8" y2="479.4" stroke="#000" stroke-width="1.4"/>
<text x="421.8" y="490.4" font-size="9.0" text-anchor="middle" fill="#231f20">−1</text>
<line x1="360.9" y1="389.6" x2="364.1" y2="389.6" stroke="#000" stroke-width="1.4"/>
<text x="358.1" y="392.8" font-size="9.0" text-anchor="end" fill="#231f20">0</text>
<line x1="450.7" y1="476.5" x2="450.7" y2="479.4" stroke="#000" stroke-width="1.4"/>
<text x="450.7" y="490.4" font-size="9.0" text-anchor="middle" fill="#231f20">0</text>
<line x1="360.9" y1="418.6" x2="364.1" y2="418.6" stroke="#000" stroke-width="1.4"/>
<text x="358.1" y="421.8" font-size="9.0" text-anchor="end" fill="#231f20">−1</text>
<line x1="479.6" y1="476.5" x2="479.6" y2="479.4" stroke="#000" stroke-width="1.4"/>
<text x="479.6" y="490.4" font-size="9.0" text-anchor="middle" fill="#231f20">1</text>
<line x1="360.9" y1="447.6" x2="364.1" y2="447.6" stroke="#000" stroke-width="1.4"/>
<text x="358.1" y="450.8" font-size="9.0" text-anchor="end" fill="#231f20">−2</text>
<line x1="508.4" y1="476.5" x2="508.4" y2="479.4" stroke="#000" stroke-width="1.4"/>
<text x="508.4" y="490.4" font-size="9.0" text-anchor="middle" fill="#231f20">2</text>
<line x1="360.9" y1="476.5" x2="364.1" y2="476.5" stroke="#000" stroke-width="1.4"/>
<text x="358.1" y="479.7" font-size="9.0" text-anchor="end" fill="#231f20">−3</text>
<line x1="537.3" y1="476.5" x2="537.3" y2="479.4" stroke="#000" stroke-width="1.4"/>
<text x="537.3" y="490.4" font-size="9.0" text-anchor="middle" fill="#231f20">3</text>
<text x="450.7" y="502.6" font-size="9.2" text-anchor="middle" fill="#231f20"><tspan font-style="italic">x</tspan>-Coordinate (mm)</text>
<text transform="translate(338.3 390.3) rotate(-90)" font-size="9.2" text-anchor="middle" fill="#231f20"><tspan font-style="italic">y</tspan>-Coordinate (mm)</text>
<rect x="548.4" y="303.5" width="87.0" height="173" fill="#fff" stroke="#000" stroke-width="1.6"/>
<text x="591.8" y="277.8" font-size="9.15" text-anchor="middle" fill="#231f20">Normalized intensity</text>
<line x1="555.5" y1="300.6" x2="555.5" y2="303.5" stroke="#000" stroke-width="1.4"/>
<text transform="translate(552.2 297) rotate(90)" font-size="9.2" text-anchor="end" fill="#231f20">0.0</text>
<line x1="569.8" y1="300.6" x2="569.8" y2="303.5" stroke="#000" stroke-width="1.4"/>
<text transform="translate(566.5 297) rotate(90)" font-size="9.2" text-anchor="end" fill="#231f20">0.2</text>
<line x1="584.2" y1="300.6" x2="584.2" y2="303.5" stroke="#000" stroke-width="1.4"/>
<text transform="translate(580.9 297) rotate(90)" font-size="9.2" text-anchor="end" fill="#231f20">0.4</text>
<line x1="598.5" y1="300.6" x2="598.5" y2="303.5" stroke="#000" stroke-width="1.4"/>
<text transform="translate(595.2 297) rotate(90)" font-size="9.2" text-anchor="end" fill="#231f20">0.6</text>
<line x1="612.9" y1="300.6" x2="612.9" y2="303.5" stroke="#000" stroke-width="1.4"/>
<text transform="translate(609.6 297) rotate(90)" font-size="9.2" text-anchor="end" fill="#231f20">0.8</text>
<line x1="627.2" y1="300.6" x2="627.2" y2="303.5" stroke="#000" stroke-width="1.4"/>
<text transform="translate(623.9 297) rotate(90)" font-size="9.2" text-anchor="end" fill="#231f20">1.0</text>
<line x1="545.2" y1="302.8" x2="548.4" y2="302.8" stroke="#000" stroke-width="1.4"/>
<line x1="545.2" y1="331.8" x2="548.4" y2="331.8" stroke="#000" stroke-width="1.4"/>
<line x1="545.2" y1="360.7" x2="548.4" y2="360.7" stroke="#000" stroke-width="1.4"/>
<line x1="545.2" y1="389.6" x2="548.4" y2="389.6" stroke="#000" stroke-width="1.4"/>
<line x1="545.2" y1="418.6" x2="548.4" y2="418.6" stroke="#000" stroke-width="1.4"/>
<line x1="545.2" y1="447.6" x2="548.4" y2="447.6" stroke="#000" stroke-width="1.4"/>
<line x1="545.2" y1="476.5" x2="548.4" y2="476.5" stroke="#000" stroke-width="1.4"/>
<path d="M555.80,304.30 C555.80,312.25 555.60,342.80 555.80,352.00 C556.00,361.20 555.80,357.37 557.00,359.50 C558.20,361.63 559.17,363.13 563.00,364.80 C566.83,366.47 573.83,368.20 580.00,369.50 C586.17,370.80 593.67,371.65 600.00,372.60 C606.33,373.55 613.75,374.38 618.00,375.20 C622.25,376.02 623.92,376.03 625.50,377.50 C627.08,378.97 627.08,381.58 627.50,384.00 C627.92,386.42 627.92,389.42 628.00,392.00 C628.08,394.58 628.17,397.63 628.00,399.50 C627.83,401.37 629.00,402.20 627.00,403.20 C625.00,404.20 621.12,404.60 616.00,405.50 C610.88,406.40 602.87,407.42 596.30,408.60 C589.73,409.78 582.18,411.28 576.60,412.60 C571.02,413.92 566.07,415.18 562.80,416.50 C559.53,417.82 558.17,419.00 557.00,420.50 C555.83,422.00 556.00,416.30 555.80,425.50 C555.60,434.70 555.80,467.33 555.80,475.70" fill="none" stroke="#ec4020" stroke-width="1.2"/>
<path d="M555.30,304.30 C555.30,310.25 555.30,331.42 555.30,340.00 C555.30,348.58 554.87,352.18 555.30,355.80 C555.73,359.42 556.00,359.90 557.90,361.70 C559.80,363.50 561.93,365.12 566.70,366.60 C571.47,368.08 579.92,369.45 586.50,370.60 C593.08,371.75 600.62,372.68 606.20,373.50 C611.78,374.32 616.70,374.83 620.00,375.50 C623.30,376.17 624.92,376.58 626.00,377.50 C627.08,378.42 626.50,379.68 626.50,381.00 C626.50,382.32 625.77,384.18 626.00,385.40 C626.23,386.62 626.77,386.50 627.90,388.30 C629.03,390.10 632.80,394.55 632.80,396.20 C632.80,397.85 630.03,397.38 627.90,398.20 C625.77,399.02 622.13,399.95 620.00,401.10 C617.87,402.25 619.05,403.95 615.10,405.10 C611.15,406.25 602.72,406.85 596.30,408.00 C589.88,409.15 582.18,410.68 576.60,412.00 C571.02,413.32 566.08,414.58 562.80,415.90 C559.52,417.22 558.15,418.42 556.90,419.90 C555.65,421.38 555.57,415.50 555.30,424.80 C555.03,434.10 555.30,467.22 555.30,475.70" fill="none" stroke="#3326b0" stroke-width="1.2"/></svg></body></html>
